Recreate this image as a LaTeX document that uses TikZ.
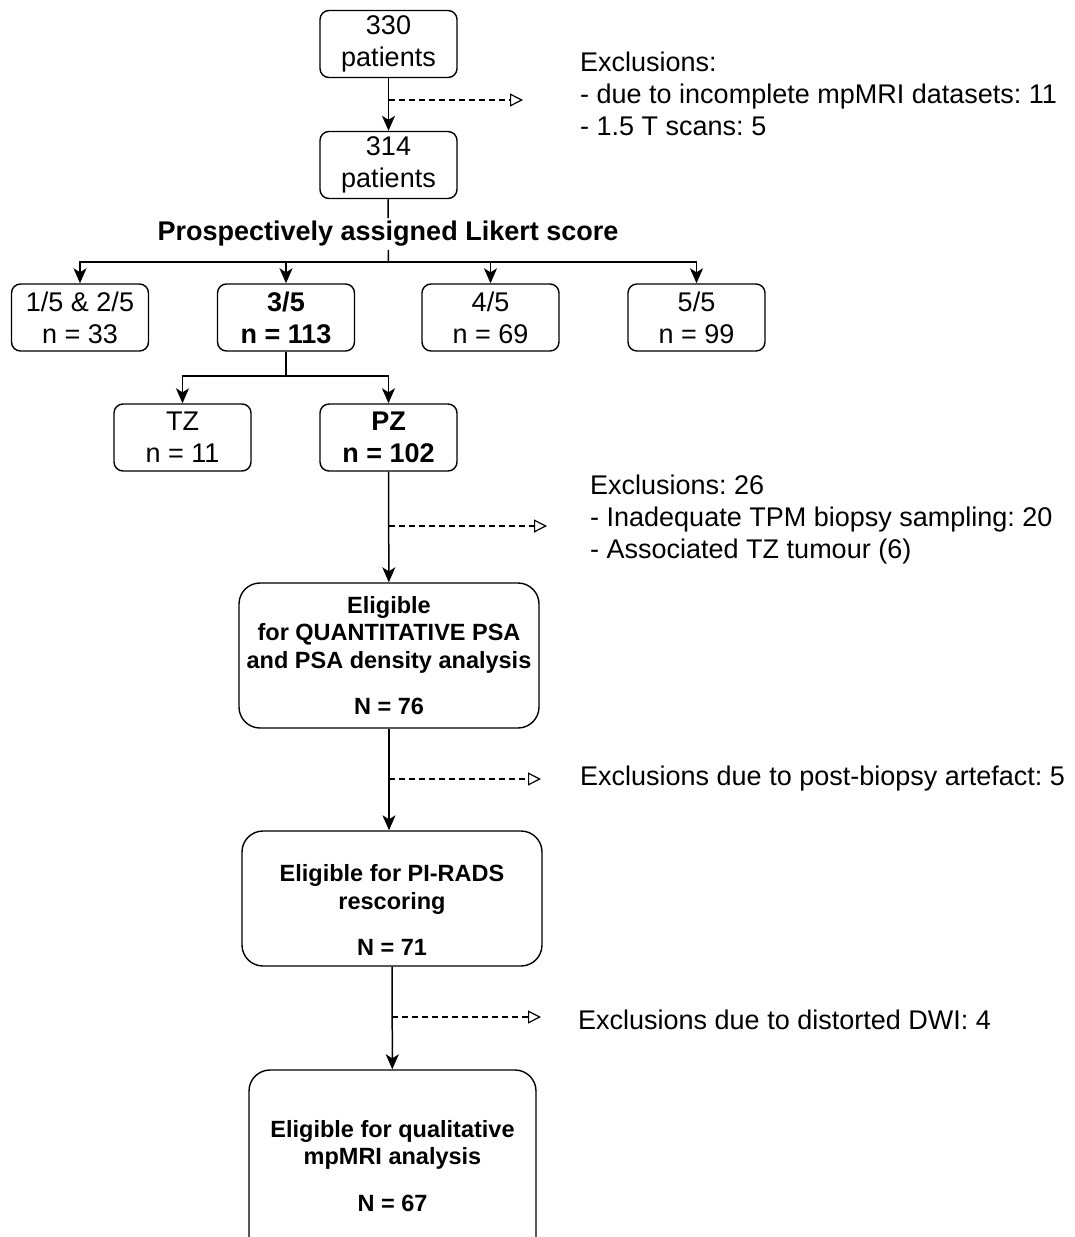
\documentclass[tikz,border=0pt]{standalone}
\usepackage{fontspec}
\setmainfont{Liberation Sans}
\frenchspacing
\usetikzlibrary{positioning, arrows.meta, calc}

\begin{document}
\begin{tikzpicture}[
  x=1pt, y=-1pt,
  box/.style   = {rectangle, draw, line width=1.4pt, align=center, inner sep=0pt, rounded corners=9pt,
                  minimum width=137pt, minimum height=67pt, font=\fontsize{27}{32}\selectfont},
  bbox/.style  = {box, rounded corners=21pt, font=\bfseries\fontsize{23.5}{27.5}\selectfont},
  note/.style  = {anchor=west, align=left, inner sep=0pt, font=\fontsize{27}{32}\selectfont},
  arr/.style   = {line width=1.5pt, -{Stealth[length=15pt, width=13pt, inset=4pt]}},
  excl/.style  = {line width=1.2pt, dash pattern=on 6pt off 4pt, -{Triangle[open, length=13pt, width=13pt]}},
  ]
  \useasboundingbox (0,0) rectangle (1074,1237);

  % Patient counts
  \node (p330)   at (388.5,44)    [box]              {330\\patients};
  \node (p314)   at (388.5,165)   [box]              {314\\patients};
  \node (likert) at (388,234)     [inner sep=3pt, font=\bfseries\fontsize{27}{32}\selectfont] {Prospectively assigned Likert score};
  % Likert score groups
  \node (l12)    at (80,317.5)    [box]              {1/5 \& 2/5\\n = 33};
  \node (l35)    at (286,317.5)   [box, font=\bfseries\fontsize{27}{32}\selectfont] {3/5\\n = 113};
  \node (l45)    at (490.5,317.5) [box]              {4/5\\n = 69};
  \node (l55)    at (696.5,317.5) [box]              {5/5\\n = 99};
  % Zones
  \node (tz)     at (182.5,437.5) [box]              {TZ\\n = 11};
  \node (pz)     at (388.5,437.5) [box, font=\bfseries\fontsize{27}{32}\selectfont] {PZ\\n = 102};
  % Eligible sets
  \node (elig)   at (389,655.5)   [bbox, minimum width=300pt, minimum height=145pt]
        {Eligible\\for QUANTITATIVE PSA\\and PSA density analysis\\[19pt]N = 76};
  \node (pirads) at (392,898.5)   [bbox, minimum width=300pt, minimum height=135pt]
        {\rule{0pt}{40pt}Eligible for PI-RADS\\rescoring\\[19pt]N = 71};
  \node (qual)   at (392.5,1166)  [bbox, minimum width=287pt, minimum height=192pt]
        {Eligible for qualitative\\mpMRI analysis\\[19pt]N = 67};

  % Exclusion notes
  \node (x1) at (580,94)   [note] {Exclusions:\\- due to incomplete mpMRI datasets: 11\\- 1.5 T scans: 5};
  \node (x2) at (590,520)  [note] {Exclusions: 26\\- Inadequate TPM biopsy sampling: 20\\- Associated TZ tumour (6)};
  \node (x3) at (580,779)  [note] {Exclusions due to post-biopsy artefact: 5};
  \node (x4) at (578,1020) [note] {Exclusions due to distorted DWI: 4};

  \coordinate (split)  at (388.5,262);
  \coordinate (zsplit) at (286,376);
  \coordinate (e1) at (523,100);
  \coordinate (e2) at (547,526);
  \coordinate (e3) at (541,779);
  \coordinate (e4) at (541,1017);

  % Main flow
  \draw[arr] (p330) -- (p314);
  \draw[line width=1.5pt] (p314) -- (likert) -- (split);
  \draw[arr] (split) -| (l12);
  \draw[arr] (split) -| (l35);
  \draw[arr] (split) -| (l45);
  \draw[arr] (split) -| (l55);
  \draw[line width=2.8pt] (l35) -- (zsplit);
  \draw[arr] (zsplit) -| (tz);
  \draw[arr] (zsplit) -| (pz);
  \draw[arr] (pz) -- (elig);
  \draw[arr] (elig) -- (elig |- pirads.north);
  \draw[arr] (pirads) -- (qual);

  % Exclusions
  \draw[excl] (p330 |- e1)   -- (e1);
  \draw[excl] (pz |- e2)     -- (e2);
  \draw[excl] (elig |- e3)   -- (e3);
  \draw[excl] (pirads |- e4) -- (e4);
\end{tikzpicture}
\end{document}
